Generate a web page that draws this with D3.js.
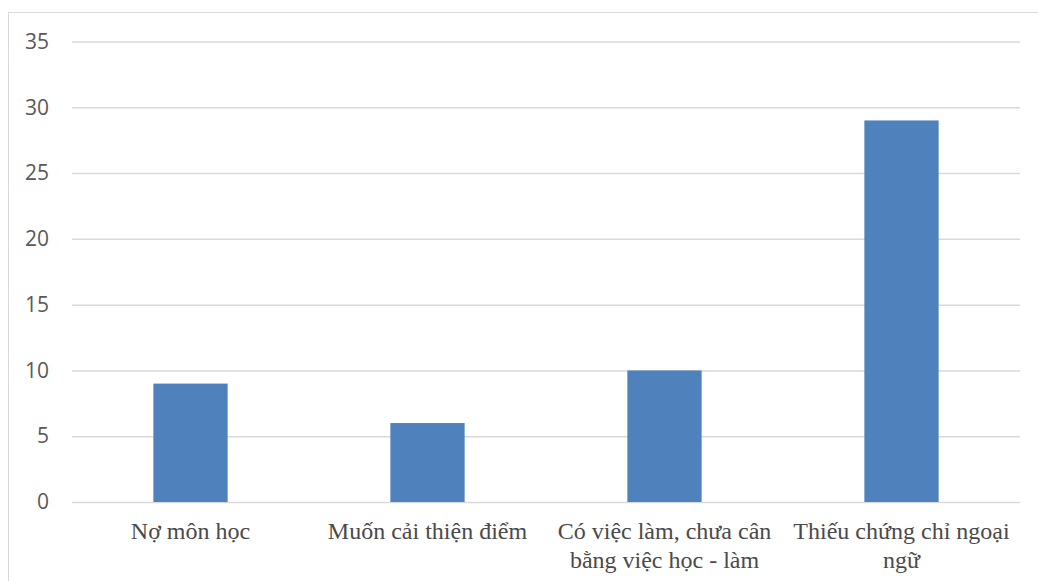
<!DOCTYPE html>
<html><head><meta charset="utf-8">
<script src="https://cdn.jsdelivr.net/npm/d3@7"></script>
<style>body{margin:0;background:#fff}svg{display:block}</style>
</head><body>
<svg id="c" width="1038" height="581"></svg>
<script>
const categories = ["Nợ môn học", "Muốn cải thiện điểm", "Có việc làm, chưa cân bằng việc học - làm", "Thiếu chứng chỉ ngoại ngữ"];
const values = [9, 6, 10, 29];
const yTicks = [0, 5, 10, 15, 20, 25, 30, 35];

const svg = d3.select("#c");
const m = {left: 72, top: 41.5};
const pw = 1020 - m.left, ph = 502 - m.top;

svg.append("rect").attr("x", 8.5).attr("y", 12.5).attr("width", 1040).attr("height", 600)
  .attr("fill", "none").attr("stroke", "#d9d9d9").attr("stroke-width", 1);

const g = svg.append("g").attr("transform", `translate(${m.left},${m.top})`);
const x = d3.scaleBand().domain(categories).range([0, pw]).paddingInner(0.6866).paddingOuter(0.3433);
const y = d3.scaleLinear().domain([0, 35]).range([ph, 0]);

const ya = g.append("g").call(d3.axisLeft(y).tickValues(yTicks).tickSize(-pw).tickPadding(23));
ya.select(".domain").remove();
ya.selectAll(".tick line").attr("stroke", "#d9d9d9").attr("stroke-width", 1.5);
ya.selectAll(".tick text").attr("fill", "#595959").attr("font-family", "'Open Sans', sans-serif").attr("font-size", 21);

g.selectAll("rect.bar").data(values).join("rect").attr("class", "bar")
  .attr("x", (d, i) => x(categories[i])).attr("width", x.bandwidth())
  .attr("y", d => y(d)).attr("height", d => ph - y(d))
  .attr("fill", "#4f81bd");

const xa = g.append("g").attr("transform", `translate(0,${ph})`).call(d3.axisBottom(x).tickSize(0).tickPadding(0));
xa.select(".domain").remove();
xa.selectAll(".tick text").attr("fill", "#4a4a4a").attr("font-family", "'Liberation Serif', 'Times New Roman', serif").attr("font-size", 24)
  .each(function(d) {
    const t = d3.select(this);
    const words = d.split(" ");
    t.text(null);
    let line = [], lines = [];
    const tmp = t.append("tspan");
    for (const w of words) {
      line.push(w);
      tmp.text(line.join(" "));
      if (tmp.node().getComputedTextLength() > x.step() - 10 && line.length > 1) {
        line.pop(); lines.push(line.join(" ")); line = [w];
      }
    }
    lines.push(line.join(" "));
    tmp.remove();
    t.attr("dy", null).attr("y", 0);
    lines.forEach((l, i) => t.append("tspan").attr("x", 0).attr("y", 37 + i * 29).text(l));
  });
</script>
</body></html>
